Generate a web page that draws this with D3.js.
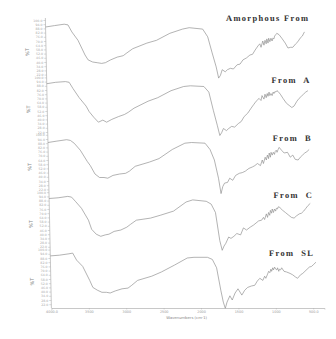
<!DOCTYPE html>
<html>
<head>
<meta charset="utf-8">
<script src="https://cdn.jsdelivr.net/npm/d3@7"></script>
<style>
  body { margin: 0; background: #fff; }
  svg { display: block; }
</style>
</head>
<body>
<svg id="chart" width="336" height="339"></svg>
<script>
// shared wavenumber grid (cm-1), high to low
const wavenumbers = [4000, 3880, 3750, 3700, 3650, 3570, 3480, 3440, 3380, 3320,
  3260, 3210, 3140, 3050, 2970, 2920, 2840, 2650, 2520, 2340,
  2170, 2080, 1900, 1835, 1780, 1730, 1700, 1675, 1650, 1610,
  1580, 1540, 1500, 1450, 1410, 1370, 1320, 1275, 1240, 1205,
  1165, 1140, 1125, 1100, 1085, 1070, 1055, 1045, 1030, 1020,
  1005, 990, 975, 965, 950, 940, 925, 910, 880, 845,
  800, 765, 730, 700, 660, 630, 600, 570, 540, 510,
  480, 450];

// %T for each form (null = not recorded)
const amorphousForm = [90, 92, 94, 93, 83, 71, 50, 43, 40, 39,
  38, 39, 43, 47, 49, 53, 59, 67, 71, 81,
  87, 89, 87, 76, 53, 33, 17, 21, 29, 26,
  29, 31, 30, 36, 37, 43, 46, 50, 51, 57,
  63, 66, 61, 70, 64, 71, 66, 73, 67, 74,
  69, 74, 70, 74, 73, 77, 79, 81, 79, 74,
  67, 60, 61, 61, 66, 69, 74, 77, 83, null,
  null, null];
const formA = [91, 93, 94, 93, 84, 71, 59, 51, 43, 36,
  39, 36, 40, 44, 47, 50, 56, 66, 71, 81,
  87, 88, 87, 79, 53, 31, 17, 21, 27, 24,
  27, 30, 29, 34, 37, 44, 49, 56, 61, 66,
  70, 67, 74, 69, 76, 71, 77, 73, 79, 74,
  77, 74, 79, 77, 80, 79, 81, 80, 76, 70,
  63, 60, 57, 59, 66, 70, 73, 76, 79, 81,
  null, null];
const formB = [89, 91, 93, 92, 88, 78, 62, 56, 44, 39,
  39, 38, 42, 44, 45, 48, 55, 61, 66, 79,
  88, 89, 88, 79, 64, 38, 16, 26, 31, 32,
  38, 35, 42, 45, 46, 48, 52, 54, 56, 59,
  56, 64, 59, 68, 64, 71, 66, 74, 68, 75,
  71, 75, 72, 76, 78, 75, 79, 82, 78, 74,
  75, 68, 71, 65, 64, 68, 71, 74, 76, 79,
  null, null];
const formC = [91, 92, 94, 93, 87, 77, 60, 47, 40, 37,
  39, 40, 44, 46, 50, 54, 60, 63, 67, 73,
  86, 89, 87, 83, 71, 31, 17, 23, 27, 36,
  34, 37, 41, 39, 49, 46, 50, 53, 56, 59,
  60, 64, 61, 69, 64, 71, 67, 74, 70, 76,
  71, 76, 73, 77, 76, 79, 79, 77, 74, 71,
  67, 64, 63, 66, 69, 70, 73, 77, 81, 84,
  null, null];
const formSL = [91, 92, 94, 95, 85, 76, 56, 46, 42, 39,
  39, 38, 41, 44, 45, 49, 56, 62, 68, 78,
  88, 89, 89, 86, 74, 42, 25, 16, 25, 34,
  28, 38, 44, 35, 42, 46, 48, 49, 55, 59,
  56, 62, 59, 65, 69, 67, 72, 69, 74, 71,
  75, 72, 71, 74, 69, 72, 71, 74, 69, 68,
  66, 64, 61, 59, 64, 66, 69, 72, 75, 76,
  79, 82];

const panelTitles = ["Amorphous From", "From  A", "From  B", "From  C", "From  SL"];
const xTickValues = [4000, 3500, 3000, 2500, 2000, 1500, 1000, 500];
const xTickLabels = ["4000.0", "3500", "3000", "2500", "2000", "1500", "1000", "500.0"];
const yTickValues = [100, 94, 88, 82, 76, 70, 64, 58, 52, 46, 40, 34, 28, 22];

const series = [amorphousForm, formA, formB, formC, formSL];

const svg = d3.select("#chart");
const W = 336, H = 339;
svg.append("rect").attr("width", W).attr("height", H).attr("fill", "#fff");

// the scanned figure leans a little, so the plot is skewed slightly
const g = svg.append("g").attr("transform", "skewX(1.19)");

const x = d3.scaleLinear().domain([4000, 350]).range([45, 318]);
const axisY = 308;
const panelStep = 57.4;
const panelTop = i => 20 + i * panelStep;

const lineColor = "#8a8a8a";
const axisColor = "#b0b0b0";
const smallFont = "DejaVu Sans, sans-serif";

// vertical ruler
g.append("line")
  .attr("x1", x.range()[0]).attr("x2", x.range()[0])
  .attr("y1", 18).attr("y2", axisY)
  .attr("stroke", axisColor).attr("stroke-width", 0.7);

series.forEach((vals, i) => {
  const top = panelTop(i);
  const y = d3.scaleLinear().domain([0, 100]).range([top + 70, top]);

  // y ticks for this panel
  const ya = g.append("g")
    .attr("transform", `translate(${x.range()[0]},0)`)
    .call(d3.axisLeft(y).tickValues(yTickValues).tickSize(2).tickPadding(1)
      .tickFormat(d3.format(".1f")));
  ya.select(".domain").remove();
  ya.selectAll("line").attr("stroke", axisColor).attr("stroke-width", 0.5);
  ya.selectAll("text").attr("fill", "#aaa").attr("font-size", 3.2)
    .attr("font-family", smallFont);

  // %T label
  g.append("text")
    .attr("transform", `translate(28,${top + 32}) rotate(-90)`)
    .attr("text-anchor", "middle")
    .attr("font-family", smallFont)
    .attr("font-size", 5)
    .attr("fill", "#888")
    .text("%T");

  const pts = wavenumbers.map((w, k) => [w, vals[k]]);
  const line = d3.line()
    .defined(d => d[1] != null)
    .x(d => x(d[0]))
    .y(d => y(d[1]));

  g.append("path")
    .datum(pts)
    .attr("d", line)
    .attr("fill", "none")
    .attr("stroke", lineColor)
    .attr("stroke-width", 0.65)
    .attr("stroke-linejoin", "round");

  // form name; the first one sits a bit above its trace
  g.append("text")
    .attr("x", x.range()[1] - 9)
    .attr("y", top + 6 - (i === 0 ? 5 : 0))
    .attr("text-anchor", "end")
    .attr("font-family", "Liberation Serif, Times New Roman, serif")
    .attr("font-weight", "bold")
    .attr("font-size", 8.5)
    .attr("letter-spacing", 1.3)
    .attr("fill", "#333")
    .style("white-space", "pre")
    .text(panelTitles[i]);
});

// x axis
const xa = g.append("g")
  .attr("transform", `translate(0,${axisY})`)
  .call(d3.axisBottom(x).tickValues(xTickValues).tickSize(1.5).tickPadding(1.5)
    .tickFormat((d, k) => xTickLabels[k]));
xa.select(".domain").attr("stroke", axisColor).attr("stroke-width", 0.7);
xa.selectAll("line").attr("stroke", axisColor).attr("stroke-width", 0.5);
xa.selectAll("text").attr("fill", "#999").attr("font-size", 3.4)
  .attr("font-family", smallFont);

g.append("text")
  .attr("x", 180)
  .attr("y", axisY + 11)
  .attr("text-anchor", "middle")
  .attr("font-family", smallFont)
  .attr("font-size", 3.8)
  .attr("fill", "#888")
  .text("Wavenumbers (cm-1)");
</script>
</body>
</html>
